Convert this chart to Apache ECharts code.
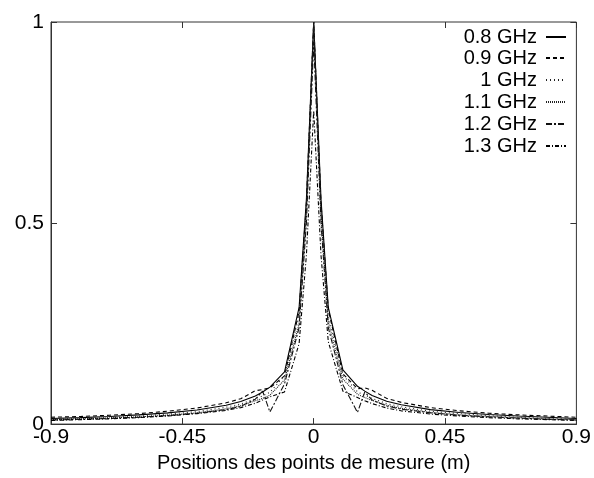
<!DOCTYPE html>
<html>
<head>
<meta charset="utf-8">
<script src="https://cdn.jsdelivr.net/npm/echarts@6/dist/echarts.min.js"></script>
<style>html,body{margin:0;padding:0;background:#fff;}#c{width:594px;height:478px;}</style>
</head>
<body>
<div id="c"></div>
<script>
// Positions (m)
var positions = [-0.9,-0.8,-0.7,-0.6,-0.5,-0.4,-0.3,-0.25,-0.2,-0.175,-0.15,-0.1,-0.05,-0.025,0,0.025,0.05,0.1,0.15,0.175,0.2,0.25,0.3,0.4,0.5,0.6,0.7,0.8,0.9];
var seriesNames = ['0.8 GHz','0.9 GHz','1 GHz','1.1 GHz','1.2 GHz','1.3 GHz'];
var v08 = [0.014,0.016,0.019,0.023,0.028,0.035,0.047,0.056,0.070,0.080,0.092,0.130,0.290,0.560,1.000,0.560,0.290,0.135,0.094,0.082,0.071,0.057,0.048,0.036,0.029,0.024,0.020,0.017,0.014];
var v09 = [0.017,0.019,0.022,0.026,0.032,0.040,0.053,0.063,0.083,0.086,0.090,0.120,0.280,0.550,1.000,0.550,0.285,0.125,0.088,0.090,0.084,0.064,0.054,0.041,0.033,0.027,0.023,0.020,0.017];
var v10 = [0.012,0.014,0.016,0.020,0.025,0.031,0.042,0.050,0.063,0.070,0.079,0.120,0.270,0.540,1.000,0.540,0.270,0.122,0.080,0.072,0.064,0.051,0.043,0.032,0.026,0.021,0.017,0.014,0.012];
var v11 = [0.011,0.013,0.015,0.018,0.022,0.028,0.038,0.046,0.058,0.064,0.072,0.110,0.250,0.520,1.000,0.520,0.255,0.112,0.074,0.066,0.059,0.047,0.039,0.029,0.023,0.019,0.016,0.013,0.011];
var v12 = [0.010,0.012,0.014,0.017,0.021,0.027,0.036,0.044,0.062,0.082,0.030,0.100,0.240,0.500,0.950,0.500,0.240,0.098,0.029,0.080,0.060,0.045,0.037,0.028,0.022,0.018,0.015,0.012,0.010];
var v13 = [0.009,0.011,0.013,0.016,0.020,0.026,0.034,0.041,0.052,0.060,0.068,0.080,0.200,0.420,0.780,0.420,0.205,0.082,0.066,0.058,0.051,0.040,0.033,0.025,0.020,0.016,0.013,0.011,0.009];
var xTicks = [-0.9,-0.45,0,0.45,0.9];
var yTicks = [0,0.5,1];

var allValues = [v08,v09,v10,v11,v12,v13];
var styles = [
  {type:'solid', color:'#000'},
  {type:[4,3], color:'#000'},
  {type:[1,3], color:'#222'},
  {type:[1,1], color:'#222'},
  {type:[6,2,2,2], color:'#111'},
  {type:[4,2,1,2], color:'#000'}
];
function pairs(vals){ return positions.map(function(x,i){ return [x, vals[i]]; }); }
var FONT = 'Liberation Sans, Arial, Helvetica, sans-serif';
var series = seriesNames.map(function(n,i){
  return {
    name:n, type:'line', data:pairs(allValues[i]), symbol:'none', showSymbol:false,
    animation:false, lineStyle:{width:1.1, type:styles[i].type, color:styles[i].color},
    itemStyle:{color:styles[i].color}, xAxisIndex:0, yAxisIndex:0
  };
});
var legendTops = [27,48,70,92,114,136];
var legends = seriesNames.map(function(n,i){
  return {
    data:[n], right:27, top:legendTops[i], orient:'vertical', align:'right',
    itemWidth:20, itemHeight:10, itemGap:0, padding:0, selectedMode:false,
    itemStyle:{opacity:0, borderWidth:0},
    textStyle:{fontSize:20, color:'#000', fontFamily:FONT, padding:[0,4,0,0]}
  };
});
var chart = echarts.init(document.getElementById('c'), null, {renderer:'canvas'});
chart.setOption({
  backgroundColor:'#fff',
  animation:false,
  grid:{left:51, right:15, top:22, bottom:42, show:true, borderColor:'#333', borderWidth:1, backgroundColor:'transparent'},
  legend: legends,
  xAxis:[{
    type:'value', min:-0.9, max:0.9, interval:0.45,
    name:'Positions des points de mesure (m)', nameLocation:'middle', nameGap:17,
    nameTextStyle:{fontSize:20, color:'#000', fontFamily:FONT},
    axisLine:{show:true, onZero:false, lineStyle:{color:'#333', width:1}},
    axisTick:{show:true, inside:true, length:6, lineStyle:{color:'#333'}},
    axisLabel:{fontSize:21, color:'#000', fontFamily:FONT, margin:3,
      formatter:function(v){ var r=Math.round(v*100)/100; return String(r); }},
    splitLine:{show:false}
  },{
    type:'value', position:'top', min:-0.9, max:0.9, interval:0.45,
    axisLine:{show:false, onZero:false}, axisTick:{show:true, inside:true, length:6, lineStyle:{color:'#333'}},
    axisLabel:{show:false}, splitLine:{show:false}
  }],
  yAxis:[{
    type:'value', min:0, max:1, interval:0.5, position:'left',
    axisLine:{show:true, onZero:false, lineStyle:{color:'#333', width:1}},
    axisTick:{show:true, inside:true, length:6, lineStyle:{color:'#333'}},
    axisLabel:{fontSize:21, color:'#000', fontFamily:FONT, margin:7,
      formatter:function(v){ return String(Math.round(v*10)/10); }},
    splitLine:{show:false}
  },{
    type:'value', position:'right', min:0, max:1, interval:0.5,
    axisLine:{show:false, onZero:false}, axisTick:{show:true, inside:true, length:6, lineStyle:{color:'#333'}},
    axisLabel:{show:false}, splitLine:{show:false}
  }],
  series: series
});
</script>
</body>
</html>
